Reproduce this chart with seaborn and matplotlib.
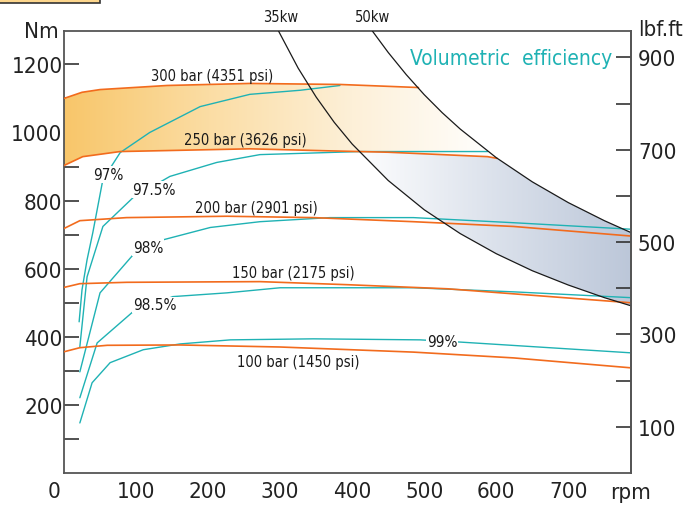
import numpy as np
import matplotlib
matplotlib.use('Agg')
import matplotlib.pyplot as plt
import matplotlib.transforms as mtransforms
from matplotlib.colors import LinearSegmentedColormap
from matplotlib.patches import Polygon, Rectangle
import seaborn as sns

sns.set_style('white')
plt.rcParams['font.family'] = ['DejaVu Sans']
plt.rcParams['font.stretch'] = 'condensed'

ORANGE = '#F26B1D'
TEAL = '#1FB2B4'
NM_PER_LBFFT = 1.3558

# ------------------------------------------------------------
# torque at constant pressure (rpm -> Nm)
# ------------------------------------------------------------
bar300_rpm = [0, 25, 50, 143, 258, 383, 492]
bar300_nm = [1100, 1118, 1126, 1138, 1144, 1141, 1132]

bar250_rpm = [0, 26, 78, 258, 369, 450, 588, 601]
bar250_nm = [903, 929, 944, 952, 946, 942, 929, 924]

bar200_rpm = [0, 22, 87, 226, 346, 485, 624, 786]
bar200_nm = [718, 741, 750, 754, 750, 738, 724, 696]

bar150_rpm = [0, 22, 87, 272, 393, 532, 786]
bar150_nm = [545, 556, 560, 562, 553, 541, 500]

bar100_rpm = [0, 22, 60, 161, 300, 485, 624, 786]
bar100_nm = [356, 368, 375, 376, 370, 355, 338, 309]

pressure_labels = ['300 bar (4351 psi)', '250 bar (3626 psi)', '200 bar (2901 psi)',
                   '150 bar (2175 psi)', '100 bar (1450 psi)']

# ------------------------------------------------------------
# volumetric efficiency lines (rpm -> Nm)
# ------------------------------------------------------------
eff97_rpm = [21, 25, 32, 40, 54, 78, 119, 189, 258, 328, 383]
eff97_nm = [444, 538, 626, 706, 862, 941, 1000, 1076, 1112, 1124, 1138]

eff975_rpm = [22, 32, 54, 96, 147, 212, 272, 411, 588]
eff975_nm = [371, 576, 724, 809, 871, 912, 935, 944, 944]

eff98_rpm = [22, 50, 96, 138, 203, 272, 369, 485, 624, 786]
eff98_nm = [297, 529, 641, 685, 721, 738, 750, 750, 735, 716]

eff985_rpm = [22, 46, 96, 151, 226, 300, 485, 624, 786]
eff985_nm = [221, 382, 474, 518, 529, 544, 544, 532, 515]

eff99_rpm = [22, 39, 64, 110, 161, 231, 346, 494, 546, 786]
eff99_nm = [147, 265, 324, 362, 379, 391, 394, 391, 385, 353]

eff_labels = ['97%', '97.5%', '98%', '98.5%', '99%']

# ------------------------------------------------------------
# constant power lines (rpm -> Nm)
# ------------------------------------------------------------
kw35_rpm = [298, 325, 350, 375, 400, 450, 500, 550, 600, 650, 700, 750, 787]
kw35_nm = [1297, 1189, 1104, 1030, 966, 859, 773, 703, 644, 594, 552, 515, 491]

kw50_rpm = [428, 450, 475, 500, 525, 550, 600, 650, 700, 750, 787]
kw50_nm = [1298, 1235, 1170, 1111, 1058, 1010, 926, 855, 794, 741, 706]

power_labels = ['35kw', '50kw']

# ============================================================
# figure
# ============================================================
fig = plt.figure(figsize=(6.88, 5.06), dpi=100)
ax = fig.add_axes([64 / 688, 1 - 474 / 506, (631 - 64) / 688, (474 - 32) / 506])
XMAX, YMAX = 787, 1298
ax.set_xlim(0, XMAX)
ax.set_ylim(0, YMAX)

# gradient band between 300 and 250 bar, cut by the 50 kw line
r = np.linspace(0, 601, 300)
upper = np.minimum(np.interp(r, bar300_rpm, bar300_nm), np.interp(r, kw50_rpm, kw50_nm))
lower = np.interp(r, bar250_rpm, bar250_nm)
poly = Polygon(np.column_stack([np.r_[r, r[::-1]], np.r_[upper, lower[::-1]]]),
               closed=True, facecolor='none', edgecolor='none')
ax.add_patch(poly)
cmap_or = LinearSegmentedColormap.from_list('or', ['#F8C66A', '#FBDDA4', '#FDF0D8', '#FFFFFF'])
im = ax.imshow(np.linspace(0, 1, 256)[None, :], cmap=cmap_or, aspect='auto',
               extent=[0, 600, 0, YMAX], origin='lower', zorder=1)
im.set_clip_path(poly)

# gradient band between 35 and 50 kw lines
r = np.linspace(405, XMAX, 300)
upper = np.minimum(np.interp(r, bar250_rpm, bar250_nm), np.interp(r, kw50_rpm, kw50_nm))
lower = np.interp(r, kw35_rpm, kw35_nm)
upper = np.maximum(upper, lower)
poly2 = Polygon(np.column_stack([np.r_[r, r[::-1]], np.r_[upper, lower[::-1]]]),
                closed=True, facecolor='none', edgecolor='none')
ax.add_patch(poly2)
cmap_bl = LinearSegmentedColormap.from_list('bl', ['#FFFFFF', '#DCE2EC', '#BCC7D9'])
im2 = ax.imshow(np.linspace(0, 1, 256)[None, :], cmap=cmap_bl, aspect='auto',
                extent=[400, XMAX, 0, YMAX], origin='lower', zorder=1)
im2.set_clip_path(poly2)

# lines
pressure = [(bar300_rpm, bar300_nm), (bar250_rpm, bar250_nm), (bar200_rpm, bar200_nm),
            (bar150_rpm, bar150_nm), (bar100_rpm, bar100_nm)]
efficiency = [(eff97_rpm, eff97_nm), (eff975_rpm, eff975_nm), (eff98_rpm, eff98_nm),
              (eff985_rpm, eff985_nm), (eff99_rpm, eff99_nm)]
power = [(kw35_rpm, kw35_nm), (kw50_rpm, kw50_nm)]

for xs, ys in efficiency:
    sns.lineplot(x=xs, y=ys, ax=ax, color=TEAL, lw=1.0, zorder=3)
for xs, ys in pressure:
    sns.lineplot(x=xs, y=ys, ax=ax, color=ORANGE, lw=1.2, zorder=4)
for xs, ys in power:
    sns.lineplot(x=xs, y=ys, ax=ax, color='#1a1a1a', lw=0.9, zorder=5)

# labels on the curves
p_pos = [(205, 1168), (252, 978), (267, 780), (318, 590), (325, 328)]
for txt, (x, y) in zip(pressure_labels, p_pos):
    ax.text(x, y, txt, ha='center', va='center', fontsize=10.5, color='#1a1a1a', zorder=6)

e_pos = [(61, 876), (125, 832), (117, 662), (126, 494), (525, 385)]
for txt, (x, y) in zip(eff_labels, e_pos):
    ax.text(x, y, txt, ha='center', va='center', fontsize=11, color='#1a1a1a', zorder=6,
            bbox=dict(facecolor='white', edgecolor='none', pad=0.5))

for txt, x in zip(power_labels, [300, 428]):
    ax.text(x, 1340, txt, ha='center', va='center', fontsize=10.5, color='#1a1a1a', clip_on=False)

ax.text(761, 1220, 'Volumetric  efficiency', ha='right', va='center', fontsize=15,
        color=TEAL, zorder=6)

# axes styling
for s in ax.spines.values():
    s.set_color('#555555')
    s.set_linewidth(1.3)

ax.set_xticks(range(0, 800, 100))
ax.set_xticklabels([str(v) for v in range(0, 800, 100)])
ax.set_yticks(range(100, 1300, 100))
ax.set_yticklabels(['' if v % 200 else str(v) for v in range(100, 1300, 100)])
ax.tick_params(axis='both', direction='in', length=11, width=1.2, color='#333333',
               labelsize=16, labelcolor='#222222')
ax.tick_params(axis='x', pad=6)
ax.tick_params(axis='y', pad=1)
ax.set_xlabel('')
ax.set_ylabel('')

# the "0" sits a little left of the spine in the original
zero = ax.get_xticklabels()[0]
zero.set_transform(zero.get_transform()
                   + mtransforms.ScaledTranslation(-10 / 100, 0, fig.dpi_scale_trans))

ax2 = ax.twinx()
ax2.set_ylim(0, YMAX / NM_PER_LBFFT)
ax2.set_yticks(range(100, 1000, 100))
ax2.set_yticklabels([str(v) if v % 200 else '' for v in range(100, 1000, 100)])
ax2.tick_params(axis='y', direction='in', length=11, width=1.2, color='#333333',
                labelsize=16, labelcolor='#222222', pad=5)
for name, s in ax2.spines.items():
    s.set_visible(name == 'right')
    s.set_color('#555555')
    s.set_linewidth(1.3)

# unit labels
ax.text(-0.01, 1.0, 'Nm', transform=ax.transAxes, ha='right', va='center',
        fontsize=16, color='#222222')
ax.text(1.012, 1.005, 'lbf.ft', transform=ax.transAxes, ha='left', va='center',
        fontsize=16, color='#222222')
ax.text(1.0, -0.043, 'rpm', transform=ax.transAxes, ha='center', va='center',
        fontsize=16, color='#222222')

# box peeking in at the top-left corner
fig.patches.append(Rectangle((-0.01, 1 - 4 / 506), 0.156, 0.05, transform=fig.transFigure,
                             facecolor='#FDD68C', edgecolor='#333333', lw=1.2))

fig.savefig('out.png', dpi=100)
